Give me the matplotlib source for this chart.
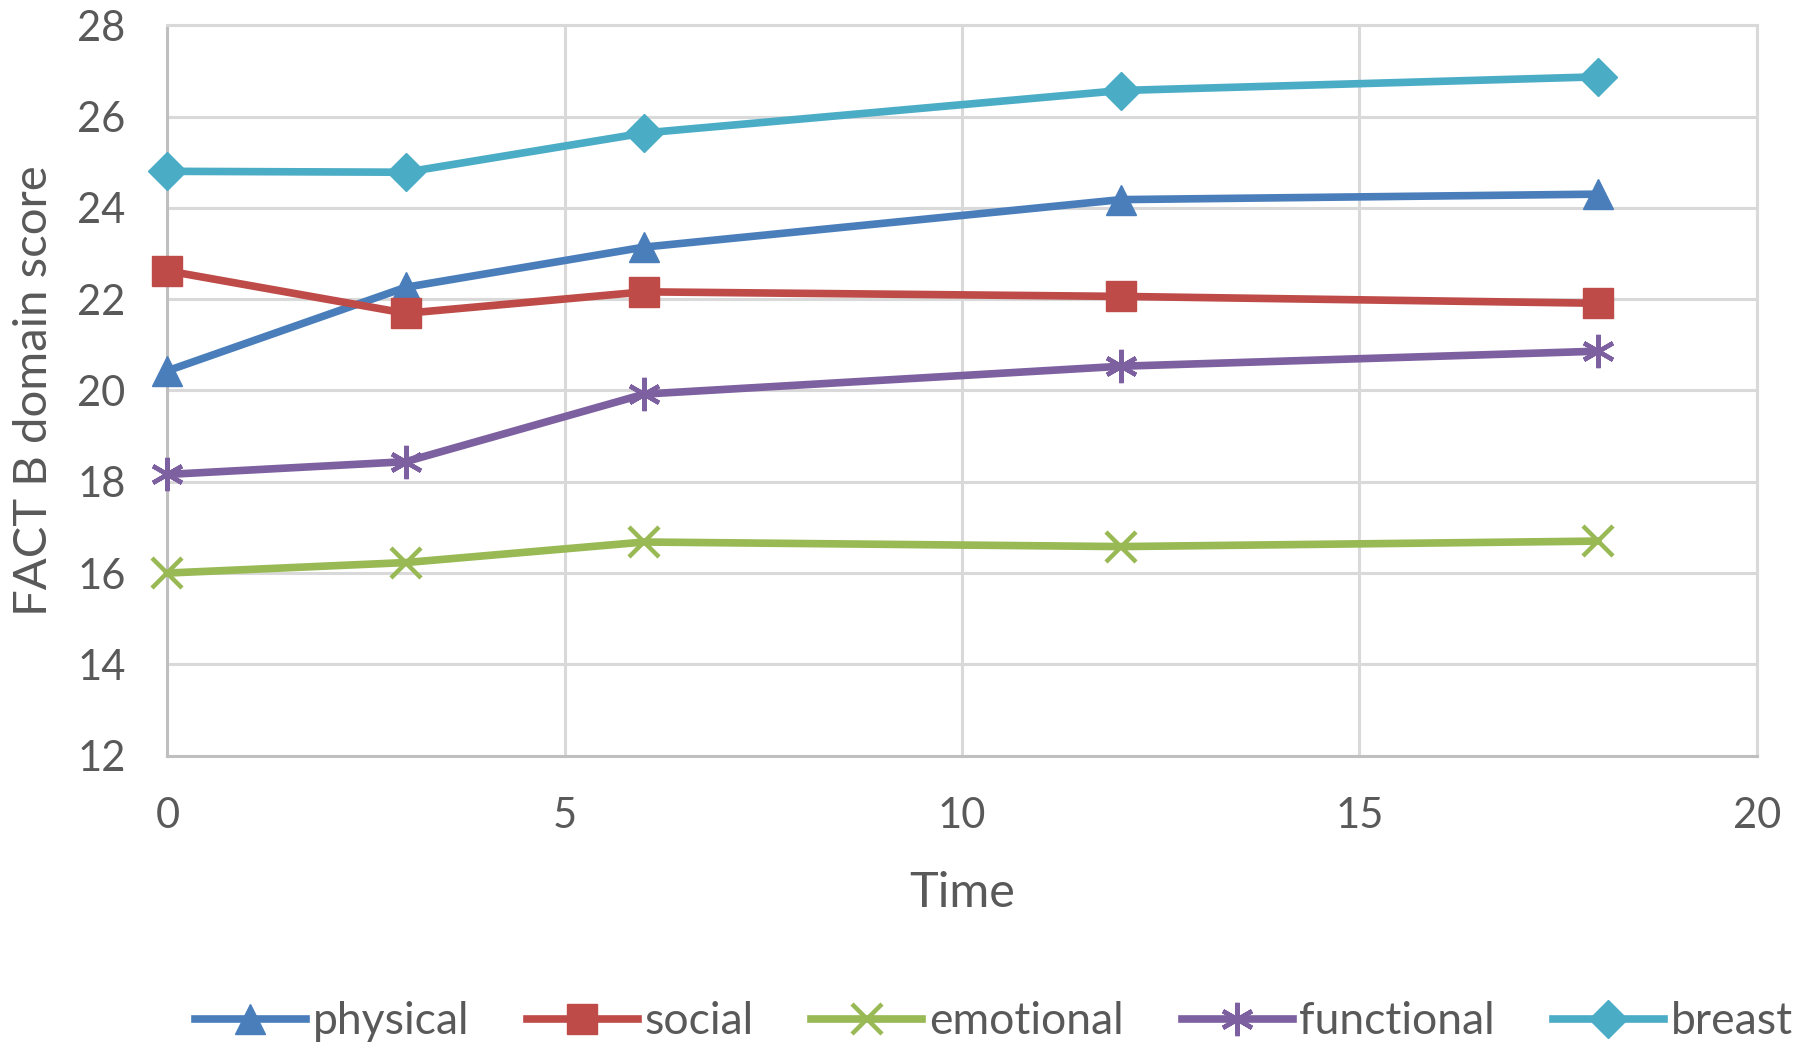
import matplotlib
matplotlib.use("Agg")
import matplotlib.pyplot as plt

time = [0, 3, 6, 12, 18]
physical = [20.43, 22.26, 23.14, 24.18, 24.30]
social = [22.62, 21.69, 22.16, 22.06, 21.91]
emotional = [16.00, 16.23, 16.68, 16.58, 16.70]
functional = [18.16, 18.44, 19.92, 20.53, 20.86]
breast = [24.80, 24.78, 25.64, 26.57, 26.87]
names = ["physical", "social", "emotional", "functional", "breast"]
x_ticks = [0, 5, 10, 15, 20]
y_ticks = [12, 14, 16, 18, 20, 22, 24, 26, 28]

plt.rcParams['font.family'] = ['Lato', 'DejaVu Sans']
fig = plt.figure(figsize=(18, 10.51), dpi=100)
ax = fig.add_axes([0.093, 0.281, 0.883, 0.695])

series = [physical, social, emotional, functional, breast]
colors = ["#4a7ebb", "#be4b48", "#98b954", "#7d60a0", "#4bacc6"]
markers = ["^", "s", "x", (6, 2, 0), "D"]
msizes = [22, 21, 22, 24, 19]
for vals, name, c, m, ms in zip(series, names, colors, markers, msizes):
    ax.plot(time, vals, color=c, lw=5.5, marker=m, markersize=ms,
            markeredgecolor=c, markerfacecolor=c,
            markeredgewidth=3.2 if m in ("x", (6, 2, 0)) else 1,
            label=name, solid_joinstyle='round', clip_on=False, zorder=3)

ax.set_xlim(0, 20)
ax.set_ylim(12, 28)
ax.set_xticks(x_ticks)
ax.set_yticks(y_ticks)
ax.grid(True, color="#d9d9d9", lw=2.2)
ax.set_axisbelow(True)
for s in ["top", "right"]:
    ax.spines[s].set_color("#d9d9d9")
    ax.spines[s].set_linewidth(2.2)
for s in ["left", "bottom"]:
    ax.spines[s].set_color("#bfbfbf")
    ax.spines[s].set_linewidth(2.2)
ax.tick_params(length=0, labelsize=30, labelcolor="#595959")
ax.tick_params(axis='x', pad=30)
ax.tick_params(axis='y', pad=30)
ax.set_xlabel("Time", fontsize=35, color="#595959", labelpad=26)
ax.set_ylabel("FACT B domain score", fontsize=34, color="#595959", labelpad=16)

fig.legend(loc="center", bbox_to_anchor=(0.552, 0.028), ncol=5, frameon=False,
           fontsize=32, labelcolor="#595959", handlelength=2.5, handletextpad=0.15,
           columnspacing=1.3, markerscale=1.0)

fig.savefig("out.png", dpi=100)
